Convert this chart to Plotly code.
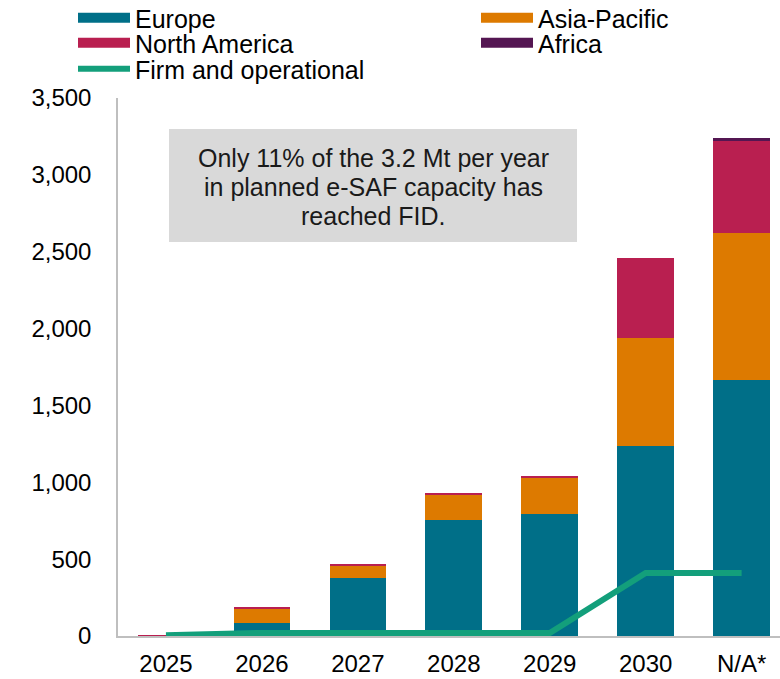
import plotly.graph_objects as go

# Planned e-SAF capacity by region and start year (kt per year)
categories = ["2025", "2026", "2027", "2028", "2029", "2030", "N/A*"]
europe = [0, 85, 378, 753, 794, 1236, 1666]
asia_pacific = [0, 95, 80, 166, 240, 703, 956]
north_america = [5, 3, 8, 5, 4, 520, 598]
africa = [0, 0, 0, 0, 0, 0, 20]
firm_operational = [5, 20, 20, 20, 20, 410, 410]

y_ticks = [0, 500, 1000, 1500, 2000, 2500, 3000, 3500]
y_tick_text = ["0", "500", "1,000", "1,500", "2,000", "2,500", "3,000", "3,500"]

callout_lines = [
    "Only 11% of the 3.2 Mt per year",
    "in planned e-SAF capacity has",
    "reached FID.",
]

colors = {
    "Europe": "#006f88",
    "Asia-Pacific": "#dd7a00",
    "North America": "#b91f50",
    "Africa": "#541652",
    "Firm and operational": "#139f7b",
}

FONT = "Liberation Sans, Arial, sans-serif"

W, H = 780, 679
M_L, M_R, M_T, M_B = 118, 0, 98, 43
PLOT_W = W - M_L - M_R
PLOT_H = H - M_T - M_B


def px_x(x):
    """Pixel column -> paper x."""
    return (x - M_L) / PLOT_W


def px_y(y):
    """Pixel row -> paper y."""
    return (H - M_B - y) / PLOT_H


fig = go.Figure()

regions = [
    ("Europe", europe),
    ("Asia-Pacific", asia_pacific),
    ("North America", north_america),
    ("Africa", africa),
]

for name, values in regions:
    fig.add_trace(go.Bar(
        x=categories, y=values, name=name,
        marker=dict(color=colors[name], line=dict(width=0)),
        legendgroup=name, showlegend=False,
    ))

fig.add_trace(go.Scatter(
    x=categories, y=firm_operational, name="Firm and operational",
    mode="lines", line=dict(color=colors["Firm and operational"], width=6),
    legend="legend5",
))

# Wide rectangular legend swatches for the stacked regions
legend_ids = {"Europe": "legend", "Asia-Pacific": "legend2",
              "North America": "legend3", "Africa": "legend4"}
for name, _ in regions:
    fig.add_trace(go.Scatter(
        x=[None], y=[None], name=name, mode="lines",
        line=dict(color=colors[name], width=14),
        legendgroup=name, legend=legend_ids[name],
    ))

# Callout box
fig.add_shape(
    type="rect", xref="paper", yref="paper",
    x0=px_x(169), x1=px_x(577), y0=px_y(242), y1=px_y(129),
    fillcolor="#d9d9d9", line=dict(width=0), layer="below",
)
for i, line in enumerate(callout_lines):
    fig.add_annotation(
        xref="paper", yref="paper", x=px_x(373), y=px_y(158 + 29 * i),
        xanchor="center", yanchor="middle",
        text=line, showarrow=False,
        font=dict(family=FONT, size=25, color="#1a1a1a"),
    )

legend_common = dict(
    orientation="v", yanchor="middle", xanchor="left",
    font=dict(family=FONT, size=25, color="#000000"),
    itemwidth=52, bgcolor="rgba(0,0,0,0)",
    itemclick=False, itemdoubleclick=False,
)
col1, col2 = px_x(73), px_x(476)
rows = [px_y(18), px_y(43), px_y(69)]

fig.update_layout(
    width=W, height=H,
    margin=dict(l=M_L, r=M_R, t=M_T, b=M_B, autoexpand=False),
    paper_bgcolor="white", plot_bgcolor="white",
    barmode="stack", bargap=0.41,
    font=dict(family=FONT, size=24, color="#000000"),
    legend=dict(x=col1, y=rows[0], **legend_common),
    legend2=dict(x=col2, y=rows[0], **legend_common),
    legend3=dict(x=col1, y=rows[1], **legend_common),
    legend4=dict(x=col2, y=rows[1], **legend_common),
    legend5=dict(x=col1, y=rows[2], **legend_common),
    xaxis=dict(
        type="category", range=[-0.5, 6.4],
        showline=True, linecolor="#bfbfbf", linewidth=1.5,
        ticks="", showgrid=False, zeroline=False,
        tickfont=dict(family=FONT, size=24, color="#000000"),
        ticklabelstandoff=5,
    ),
    yaxis=dict(
        range=[0, 3500], tickvals=y_ticks, ticktext=y_tick_text,
        showline=True, linecolor="#bfbfbf", linewidth=1.5,
        ticks="", showgrid=False, zeroline=False,
        tickfont=dict(family=FONT, size=24, color="#000000"),
        ticklabelstandoff=20,
    ),
    showlegend=True,
)

fig.write_html("out.html")
